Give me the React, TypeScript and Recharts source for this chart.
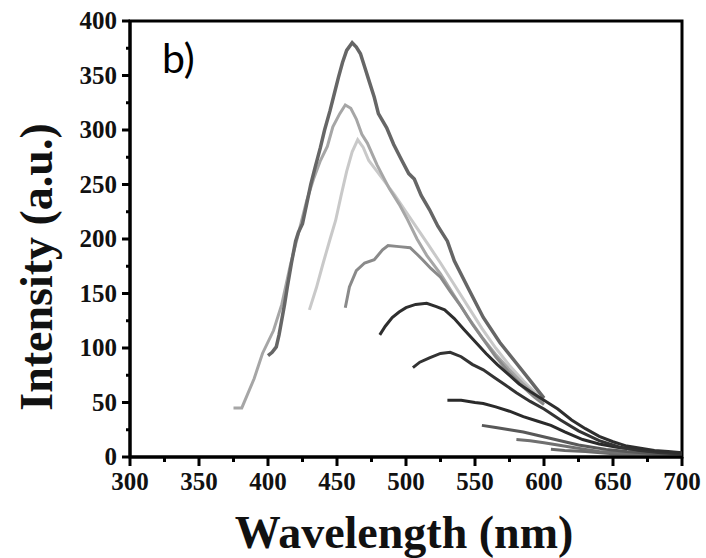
import React from 'react';
import { LineChart, Line, XAxis, YAxis, ReferenceArea, Label } from 'recharts';

// emission spectra, [wavelength nm, intensity a.u.]
const curveA: [number, number][] = [
  [375, 45], [381, 45], [390, 72], [396, 95], [404, 116], [410, 140], [416, 175], [422, 205], [428, 235],
  [433, 255], [438, 272], [443, 285], [447, 303], [452, 315], [456, 323], [460, 320], [464, 310], [468, 296],
  [472, 288], [479, 268], [488, 246], [495, 232], [501, 218], [508, 200], [515, 185], [525, 168], [535, 148],
  [545, 128], [555, 110], [565, 94], [575, 80], [585, 67], [593, 58], [600, 50],
];
const curveB: [number, number][] = [
  [400, 93], [403, 96], [406, 101], [408, 112], [410, 126], [412, 140], [414, 156], [417, 178], [420, 198],
  [422, 206], [425, 214], [428, 232], [431, 250], [434, 265], [438, 284], [441, 300], [445, 318], [448, 333],
  [451, 348], [454, 362], [457, 373], [461, 380], [464, 376], [467, 370], [470, 358], [473, 346], [477, 330],
  [480, 315], [486, 302], [491, 287], [497, 272], [502, 260], [506, 255], [511, 240], [517, 227], [523, 212],
  [530, 198], [535, 180], [545, 155], [556, 128], [568, 105], [580, 86], [590, 70], [600, 54],
];
const curveC: [number, number][] = [
  [430, 135], [435, 155], [440, 178], [445, 200], [449, 217], [453, 240], [457, 262], [461, 280], [465, 291],
  [469, 284], [473, 272], [479, 262], [485, 252], [492, 240], [500, 225], [508, 210], [516, 195], [525, 178],
  [535, 158], [545, 138], [555, 118], [565, 100], [575, 84], [585, 70], [593, 60], [600, 52],
];
const curveD: [number, number][] = [
  [456, 137], [459, 156], [464, 171], [470, 178], [477, 181], [483, 190], [487, 194], [495, 193], [503, 192],
  [508, 186], [512, 181], [518, 173], [525, 165], [532, 152], [540, 138], [548, 122], [556, 108], [565, 92],
  [575, 77], [585, 64], [593, 55], [600, 48],
];
const curveE: [number, number][] = [
  [481, 112], [485, 120], [490, 128], [495, 133], [500, 137], [507, 140], [515, 141], [522, 138], [528, 135],
  [535, 127], [542, 117], [550, 106], [558, 95], [566, 85], [574, 76], [582, 67], [590, 60], [600, 52],
  [610, 44], [620, 34], [630, 26], [640, 19], [650, 14], [660, 10], [670, 8], [680, 6], [690, 5], [700, 4],
];
const curveF: [number, number][] = [
  [505, 82], [510, 87], [517, 91], [525, 95], [532, 96], [540, 92], [548, 85], [556, 80], [564, 73], [572, 66],
  [580, 59], [590, 51], [600, 44], [612, 34], [625, 24], [640, 15], [655, 9], [670, 6], [685, 4], [700, 3],
];
const curveG: [number, number][] = [
  [530, 52], [540, 52], [550, 50], [556, 49], [565, 46], [575, 42], [585, 37], [595, 33], [605, 29], [615, 23],
  [628, 16], [640, 12], [653, 9], [665, 7], [680, 5], [700, 3],
];
const curveH: [number, number][] = [
  [555, 29], [565, 27], [575, 25], [585, 23], [595, 20], [605, 17], [615, 14], [625, 11], [635, 9], [645, 7],
  [660, 5], [680, 3], [700, 2],
];
const curveI: [number, number][] = [
  [580, 16], [590, 15], [600, 13], [610, 11], [620, 9], [630, 7], [640, 5], [655, 4], [675, 2], [700, 1],
];
const curveJ: [number, number][] = [
  [605, 7], [615, 6], [630, 5], [650, 3], [670, 2], [700, 1],
];

const xTicks = [300, 325, 350, 375, 400, 425, 450, 475, 500, 525, 550, 575, 600, 625, 650, 675, 700];
const yTicks = [0, 25, 50, 75, 100, 125, 150, 175, 200, 225, 250, 275, 300, 325, 350, 375, 400];

const series = [
  { name: 'C', pts: curveC, color: '#c9c9c9' },
  { name: 'A', pts: curveA, color: '#a6a6a6' },
  { name: 'D', pts: curveD, color: '#8a8a8a' },
  { name: 'B', pts: curveB, color: '#666666' },
  { name: 'J', pts: curveJ, color: '#6a6a6a' },
  { name: 'I', pts: curveI, color: '#707070' },
  { name: 'H', pts: curveH, color: '#585858' },
  { name: 'G', pts: curveG, color: '#2a2a2a' },
  { name: 'F', pts: curveF, color: '#333333' },
  { name: 'E', pts: curveE, color: '#2e2e2e' },
];

const serif = '"Liberation Serif", "Times New Roman", serif';

const XTick = (props: any) => {
  const { x, y, payload } = props;
  const major = payload.value % 50 === 0;
  return (
    <g>
      <line x1={x} x2={x} y1={y} y2={y + (major ? 9 : 5)} stroke="#000" strokeWidth={3} />
      {major && (
        <text x={x} y={y + 33} textAnchor="middle" fontFamily={serif} fontWeight="bold" fontSize={25} fill="#111">
          {payload.value}
        </text>
      )}
    </g>
  );
};

const YTick = (props: any) => {
  const { x, y, payload } = props;
  const major = payload.value % 50 === 0;
  return (
    <g>
      <line x1={x - (major ? 8 : 4)} x2={x} y1={y} y2={y} stroke="#000" strokeWidth={3} />
      {major && (
        <text x={x - 13} y={y + 8} textAnchor="end" fontFamily={serif} fontWeight="bold" fontSize={25} fill="#111">
          {payload.value}
        </text>
      )}
    </g>
  );
};

export default function App() {
  return (
    <div style={{ position: 'absolute', left: 0, top: 0, background: '#fff' }}>
      <LineChart width={706} height={558} margin={{ top: 21, right: 24, bottom: 0, left: 0 }}>
        <XAxis
          type="number"
          dataKey="x"
          domain={[300, 700]}
          ticks={xTicks}
          interval={0}
          allowDataOverflow
          tickSize={0}
          tickMargin={0}
          tickLine={false}
          axisLine={{ stroke: '#000', strokeWidth: 3 }}
          tick={XTick}
          height={101}
        >
          <Label
            content={() => (
              <text x={404} y={548} textAnchor="middle" fontFamily={serif} fontWeight="bold" fontSize={46} fill="#111">
                Wavelength (nm)
              </text>
            )}
          />
        </XAxis>
        <YAxis
          type="number"
          domain={[0, 400]}
          ticks={yTicks}
          interval={0}
          allowDataOverflow
          tickSize={0}
          tickMargin={0}
          tickLine={false}
          axisLine={{ stroke: '#000', strokeWidth: 3 }}
          tick={YTick}
          width={130}
        >
          <Label
            content={() => (
              <g>
                <text
                  x={52}
                  y={267}
                  transform="rotate(-90, 52, 267)"
                  textAnchor="middle"
                  fontFamily={serif}
                  fontWeight="bold"
                  fontSize={46}
                  fill="#111"
                >
                  Intensity (a.u.)
                </text>
                <text x={162} y={73} fontFamily="Lato, 'Open Sans', sans-serif" fontSize={41} fill="#000">
                  b)
                </text>
              </g>
            )}
          />
        </YAxis>
        <ReferenceArea x1={300} x2={700} y1={0} y2={400} fill="none" stroke="#000" strokeWidth={3} />
        {series.map((s) => (
          <Line
            key={s.name}
            data={s.pts.map(([x, y]) => ({ x, y }))}
            dataKey="y"
            type="linear"
            stroke={s.color}
            strokeWidth={s.name === 'B' ? 3.5 : 3}
            dot={false}
            isAnimationActive={false}
          />
        ))}
      </LineChart>
    </div>
  );
}
